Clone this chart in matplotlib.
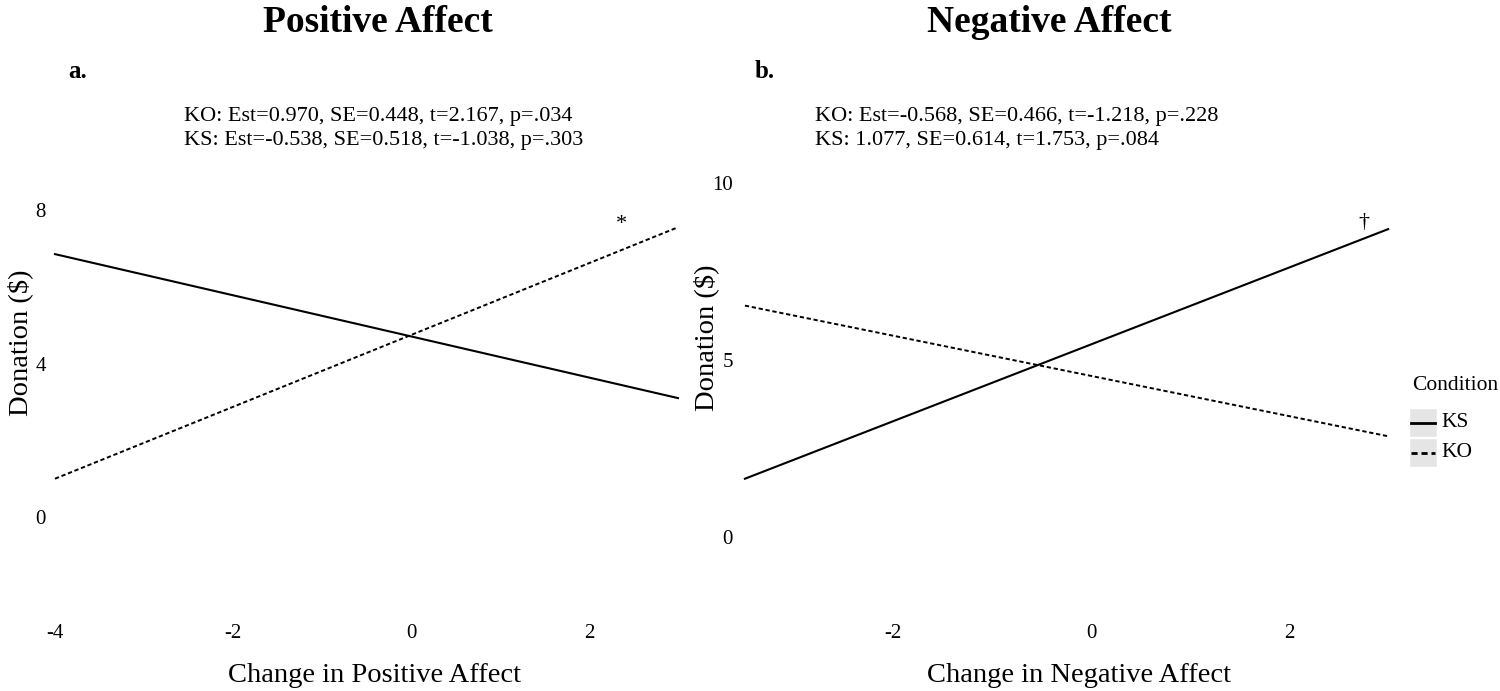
import matplotlib.pyplot as plt
from matplotlib.lines import Line2D
from matplotlib.patches import Rectangle

plt.rcParams['font.family'] = ['Liberation Serif', 'DejaVu Serif']
plt.rcParams['axes.unicode_minus'] = False

W, H = 1500, 691

# --- fitted lines ---
pa_x = [-4.0, 3.0]
pa_ks = [6.85, 3.10]
pa_ko = [1.00, 7.55]

na_x = [-3.5, 3.0]
na_ks = [1.65, 8.70]
na_ko = [6.54, 2.85]

pa_stats = ["KO: Est=0.970, SE=0.448, t=2.167, p=.034",
            "KS: Est=-0.538, SE=0.518, t=-1.038, p=.303"]
na_stats = ["KO: Est=-0.568, SE=0.466, t=-1.218, p=.228",
            "KS: 1.077, SE=0.614, t=1.753, p=.084"]

pa_xticks = [-4, -2, 0, 2]
pa_yticks = [0, 4, 8]
na_xticks = [-2, 0, 2]
na_yticks = [0, 5, 10]

conditions = ["KS", "KO"]
dash = (0, (2.2, 1.4))


def px_box(x0, y0, x1, y1):
    return [x0 / W, 1 - y1 / H, (x1 - x0) / W, (y1 - y0) / H]


def fx(px):
    return px / W


def fy(py):
    return 1 - py / H


fig = plt.figure(figsize=(15, 6.91), dpi=100)

ax1 = fig.add_axes(px_box(50, 195, 690, 620))
ax2 = fig.add_axes(px_box(737, 170, 1400, 620))

ax1.plot(pa_x, pa_ks, color='black', lw=1.5)
ax1.plot(pa_x, pa_ko, color='black', lw=1.4, linestyle=dash)
ax1.set_xlim(-4.056, 3.135)
ax1.set_ylim(-2.68, 8.39)
ax1.set_xticks(pa_xticks)
ax1.set_yticks(pa_yticks)
ax1.text(2.36, 7.61, '*', ha='center', va='center', fontsize=16)

ax2.plot(na_x, na_ks, color='black', lw=1.5)
ax2.plot(na_x, na_ko, color='black', lw=1.4, linestyle=dash)
ax2.set_xlim(-3.58, 3.12)
ax2.set_ylim(-2.34, 10.37)
ax2.set_xticks(na_xticks)
ax2.set_yticks(na_yticks)
ax2.text(2.75, 8.88, '\u2020', ha='center', va='center', fontsize=16)

for ax in (ax1, ax2):
    for s in ax.spines.values():
        s.set_visible(False)
    ax.tick_params(axis='both', length=0, labelsize=15)
    ax.tick_params(axis='x', pad=3)
    ax.tick_params(axis='y', pad=3)
    ax.set_facecolor('white')

# titles and panel letters
fig.text(fx(378), fy(23), "Positive Affect", ha='center', va='center',
         fontsize=27, fontweight='bold')
fig.text(fx(1049), fy(23), "Negative Affect", ha='center', va='center',
         fontsize=27, fontweight='bold')
fig.text(fx(78), fy(72), "a.", ha='center', va='center', fontsize=18, fontweight='bold')
fig.text(fx(765), fy(72), "b.", ha='center', va='center', fontsize=18, fontweight='bold')

# model statistics
for i, line in enumerate(pa_stats):
    fig.text(fx(184), fy(117 + 24 * i), line, ha='left', va='center', fontsize=16)
for i, line in enumerate(na_stats):
    fig.text(fx(815), fy(117 + 24 * i), line, ha='left', va='center', fontsize=16)

# axis titles
fig.text(fx(20), fy(343), "Donation ($)", rotation=90, ha='center', va='center', fontsize=20.5)
fig.text(fx(706), fy(338), "Donation ($)", rotation=90, ha='center', va='center', fontsize=20.5)
fig.text(fx(375), fy(675), "Change in Positive Affect", ha='center', va='center', fontsize=20.5)
fig.text(fx(1079), fy(675), "Change in Negative Affect", ha='center', va='center', fontsize=20.5)

# legend
fig.text(fx(1412), fy(386), "Condition", ha='left', va='center', fontsize=15.5)
styles = ['-', dash]
for i, (lab, ls) in enumerate(zip(conditions, styles)):
    top = 408 + 30 * i
    fig.patches.append(Rectangle((fx(1409), fy(top + 29)), 28 / W, 29 / H,
                                 transform=fig.transFigure, facecolor='#e5e5e5',
                                 edgecolor='white', lw=1))
    fig.lines.append(Line2D([fx(1411), fx(1435)], [fy(top + 14.5)] * 2,
                            transform=fig.transFigure, color='black',
                            lw=2.0, linestyle=ls))
    fig.text(fx(1441), fy(top + 14.5), lab, ha='left', va='center', fontsize=15.5)

fig.savefig('out.png', dpi=100, facecolor='white')
